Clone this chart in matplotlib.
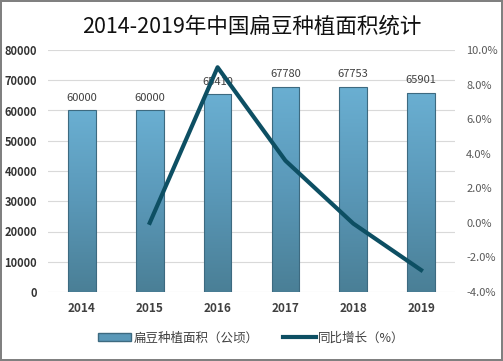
import numpy as np
import matplotlib.pyplot as plt
from matplotlib.patches import Rectangle
from matplotlib.lines import Line2D
from matplotlib.colors import LinearSegmentedColormap

plt.rcParams['font.family'] = ['Noto Sans CJK SC', 'DejaVu Sans']

years = ['2014', '2015', '2016', '2017', '2018', '2019']
area = [60000, 60000, 65410, 67780, 67753, 65901]
growth_years = ['2015', '2016', '2017', '2018', '2019']
growth = [0.0, 9.0, 3.6, -0.04, -2.73]

bar_cmap = LinearSegmentedColormap.from_list('bar', ['#4a7f96', '#5a98b8', '#6aafd2'])

fig = plt.figure(figsize=(5.03, 3.61), dpi=100)
fig.patch.set_edgecolor('#808080')
fig.patch.set_linewidth(1.5)
ax = fig.add_axes([48 / 503, 1 - 292 / 361, (455 - 48) / 503, (292 - 50) / 361])
ax2 = ax.twinx()

x = np.arange(len(years))
w = 0.41
bars = ax.bar(x, area, width=w, color='none', edgecolor='#3d6a80', linewidth=0.8, zorder=3)
grad = np.linspace(0, 1, 256).reshape(-1, 1)
for b in bars:
    im = ax.imshow(grad, cmap=bar_cmap, aspect='auto', origin='lower',
                   extent=[b.get_x(), b.get_x() + b.get_width(), 0, b.get_height()], zorder=2)
    im.set_clip_path(b)
for xi, v in zip(x, area):
    ax.text(xi, v + 2500, str(v), ha='center', va='bottom', fontsize=8, color='#404040', zorder=5)

ax.set_xlim(-0.5, len(years) - 0.5)
ax.set_ylim(0, 80000)
ax.set_yticks(np.arange(0, 80001, 10000))
ax.set_xticks(x)
ax.set_xticklabels(years, fontsize=8.5, fontweight='bold', color='#404040')
ax.tick_params(axis='y', labelsize=8, labelcolor='#333333', length=0, pad=8)
ax.tick_params(axis='x', length=0, pad=7)
for lab in ax.get_yticklabels():
    lab.set_fontweight('bold')
ax.grid(axis='y', color='#d9d9d9', linewidth=0.8, zorder=0)
ax.set_axisbelow(True)
for s in ax.spines.values():
    s.set_visible(False)

gx = [years.index(y) for y in growth_years]
ax2.plot(gx, growth, color='#0d4f63', linewidth=3, zorder=6)
ax2.set_ylim(-4, 10)
ax2.set_yticks(np.arange(-4, 10.1, 2))
ax2.set_yticklabels(['%.1f%%' % t for t in np.arange(-4, 10.1, 2)])
ax2.tick_params(axis='y', labelsize=8, labelcolor='#595959', length=0, pad=8)
for s in ax2.spines.values():
    s.set_visible(False)

fig.text(0.5, 1 - 27 / 361, '2014-2019年中国扁豆种植面积统计', ha='center', va='center',
         fontsize=15.5, fontweight='medium', color='#111111')

handles = [Rectangle((0, 0), 1, 1, facecolor='#5a98b8', edgecolor='#3d6a80'),
           Line2D([], [], color='#0d4f63', linewidth=3)]
fig.legend(handles, ['扁豆种植面积（公顷）', '同比增长（%）'], loc='center',
           bbox_to_anchor=(0.5, 1 - 338 / 361), ncol=2, frameon=False, fontsize=9,
           handlelength=2.6, handleheight=0.6, columnspacing=2.0, handletextpad=0.2,
           labelcolor='#404040')

fig.savefig('out.png', dpi=100)
